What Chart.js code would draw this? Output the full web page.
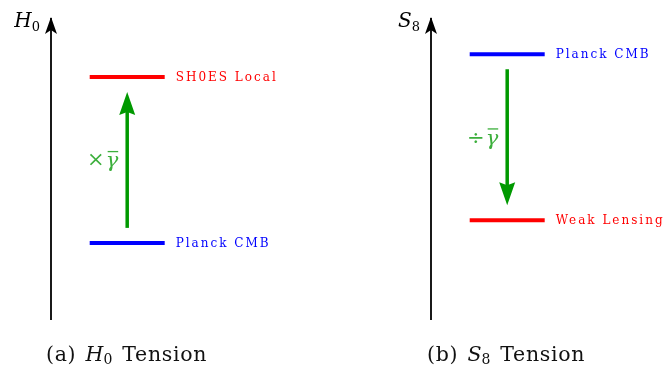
<!DOCTYPE html>
<html lang="en">
<head>
  <meta charset="UTF-8">
  <title>H0 and S8 tension</title>
  <script src="https://cdn.jsdelivr.net/npm/chart.js"></script>
  <style>
    body { margin: 0; background: #fff; }
    .wrap { position: relative; width: 663px; height: 372px; overflow: hidden; }
    .panel { position: absolute; top: 0; }
    .caption {
      position: absolute;
      top: 342px;
      font: 20.5px/24px 'DejaVu Serif', serif;
      letter-spacing: 0.7px;
      color: #111;
      white-space: nowrap;
    }
    .caption i { margin-left: 2px; letter-spacing: 0; }
    .caption sub { font-size: 14px; vertical-align: -3px; line-height: 0; margin-right: 2px; }
  </style>
</head>
<body>
  <div class="wrap">
    <div class="panel" style="left:0"><canvas id="chartH0" width="380" height="372"></canvas></div>
    <div class="panel" style="left:380px"><canvas id="chartS8" width="283" height="372"></canvas></div>
    <div class="caption" style="left:46px">(a) <i>H</i><sub>0</sub> Tension</div>
    <div class="caption" style="left:427px">(b) <i>S</i><sub>8</sub> Tension</div>
  </div>

  <script>
    // data: relative heights on a 0-10 axis
    const h0Names = ['Planck CMB', 'SH0ES Local'];
    const h0Levels = [2.55, 8.05];
    const s8Names = ['Planck CMB', 'Weak Lensing'];
    const s8Levels = [8.8, 3.3];
    const opLabels = ['×', '÷'];

    const GREEN = 'rgb(0,153,0)';
    const GREEN_TXT = 'rgb(60,175,60)';
    const LINE_X0 = 2.58, LINE_X1 = 7.58, ARROW_X = 5.08;
    const GAP = 0.5;

    const arrowPlugin = {
      id: 'arrows',
      afterDatasetsDraw(chart, args, opts) {
        const { ctx } = chart;
        const xs = chart.scales.x, ys = chart.scales.y;
        ctx.save();

        // axis arrowhead
        const ax = xs.getPixelForValue(0), ay = ys.getPixelForValue(10);
        ctx.fillStyle = '#000';
        ctx.beginPath();
        ctx.moveTo(ax, ay - 1);
        ctx.lineTo(ax - 6, ay + 16);
        ctx.lineTo(ax, ay + 12);
        ctx.lineTo(ax + 6, ay + 16);
        ctx.closePath();
        ctx.fill();

        // axis symbol
        ctx.textBaseline = 'alphabetic';
        ctx.textAlign = 'right';
        ctx.font = '13px "DejaVu Serif"';
        const subW = ctx.measureText(opts.sub).width;
        ctx.fillText(opts.sub, ax - 11, ay + 13);
        ctx.font = 'italic 20px "DejaVu Serif"';
        ctx.fillText(opts.sym, ax - 11 - subW, ay + 9);

        // green arrow head
        const lv = opts.levels;
        const dir = Math.sign(lv[1] - lv[0]);
        const tipV = lv[1] - dir * GAP;
        const gx = xs.getPixelForValue(ARROW_X), gy = ys.getPixelForValue(tipV);
        const s = dir; // pixel direction from tip back toward shaft
        ctx.fillStyle = GREEN;
        ctx.beginPath();
        ctx.moveTo(gx, gy);
        ctx.lineTo(gx - 8, gy + s * 23);
        ctx.lineTo(gx, gy + s * 20);
        ctx.lineTo(gx + 8, gy + s * 23);
        ctx.closePath();
        ctx.fill();

        // operator label beside the arrow
        const midY = ys.getPixelForValue((lv[0] + dir * GAP + tipV) / 2);
        ctx.fillStyle = GREEN_TXT;
        ctx.textAlign = 'right';
        ctx.textBaseline = 'middle';
        ctx.font = 'italic 21px "DejaVu Serif"';
        const gw = ctx.measureText('\u03B3').width;
        ctx.fillText('\u03B3', gx - 9, midY + 2);
        ctx.fillRect(gx - 9 - gw + 2, midY - 9, gw - 2, 1.3);
        ctx.font = '21px "DejaVu Serif"';
        ctx.fillText(opts.op, gx - 10 - gw, midY + 1);

        // level labels
        ctx.textAlign = 'left';
        ctx.font = '12px "DejaVu Serif"';
        ctx.letterSpacing = '2px';
        lv.forEach((v, i) => {
          ctx.fillStyle = opts.colors[i];
          ctx.fillText(opts.names[i], xs.getPixelForValue(LINE_X1) + 11, ys.getPixelForValue(v) + 1);
        });
        ctx.restore();
      }
    };

    function makePanel(id, levels, names, colors, sym, sub, op) {
      const canvas = document.getElementById(id);
      const dir = Math.sign(levels[1] - levels[0]);
      const datasets = [
        { data: [{ x: 0, y: 0 }, { x: 0, y: 10 }], borderColor: '#000', borderWidth: 1.8 },
        ...levels.map((v, i) => ({
          data: [{ x: LINE_X0, y: v }, { x: LINE_X1, y: v }],
          borderColor: colors[i], borderWidth: 4
        })),
        {
          data: [{ x: ARROW_X, y: levels[0] + dir * GAP }, { x: ARROW_X, y: levels[1] - dir * GAP - dir * 0.4 }],
          borderColor: GREEN, borderWidth: 3.5
        }
      ];
      datasets.forEach(d => { d.pointRadius = 0; d.clip = false; d.tension = 0; });

      new Chart(canvas, {
        type: 'line',
        data: { datasets },
        options: {
          responsive: false,
          animation: false,
          layout: { padding: { left: 51, right: canvas.width - 51 - 150, top: 18, bottom: 52 } },
          scales: {
            x: { type: 'linear', min: 0, max: 10, display: false },
            y: { min: 0, max: 10, display: false }
          },
          plugins: {
            legend: { display: false },
            tooltip: { enabled: false },
            arrows: { levels, names, colors, sym, sub, op }
          }
        },
        plugins: [arrowPlugin]
      });
    }

    makePanel('chartH0', h0Levels, h0Names, ['#0000ff', '#ff0000'], 'H', '0', opLabels[0]);
    makePanel('chartS8', s8Levels, s8Names, ['#0000ff', '#ff0000'], 'S', '8', opLabels[1]);
  </script>
</body>
</html>
